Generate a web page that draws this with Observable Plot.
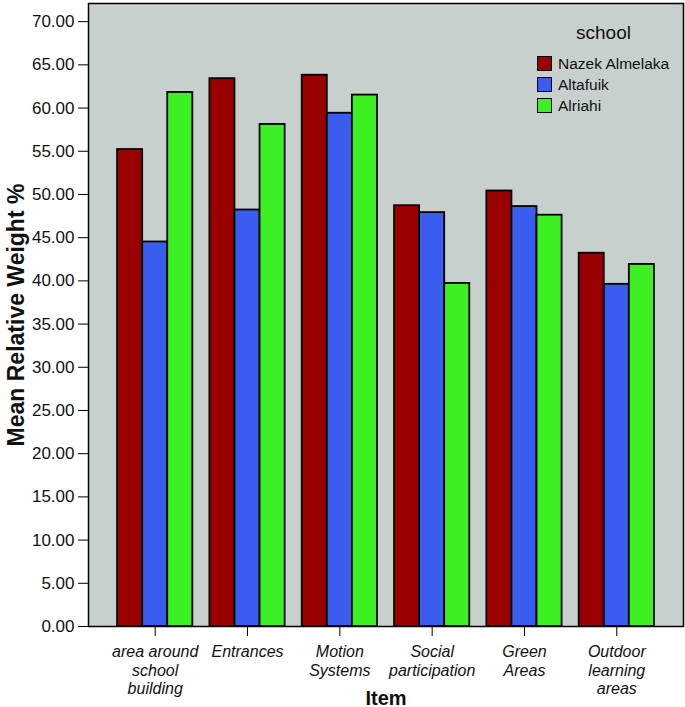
<!DOCTYPE html>
<html>
<head>
<meta charset="utf-8">
<script src="https://cdn.jsdelivr.net/npm/d3@7"></script>
<script src="https://cdn.jsdelivr.net/npm/@observablehq/plot@0.6"></script>
<style>
  html, body { margin: 0; padding: 0; background: #fff; }
  #wrap { position: relative; width: 685px; height: 707px; font-family: "Liberation Sans", Arial, sans-serif; }
  #legend { position: absolute; left: 537px; top: 22px; color: #111; }
  #legend .title { font-size: 19px; margin-left: 39px; margin-bottom: 9px; }
  #legend .row { display: flex; align-items: center; height: 21px; font-size: 15.5px; }
  #legend .sw { width: 13px; height: 13px; border: 1.5px solid #000; margin-right: 6px; }
</style>
</head>
<body>
<div id="wrap"></div>
<script>
const items = ["area around school building", "Entrances", "Motion Systems", "Social participation", "Green Areas", "Outdoor learning areas"];
const itemLabels = ["area around\nschool\nbuilding", "Entrances", "Motion\nSystems", "Social\nparticipation", "Green\nAreas", "Outdoor\nlearning\nareas"];
const schools = ["Nazek Almelaka", "Altafuik", "Alriahi"];
const nazekAlmelaka = [55.2, 63.4, 63.8, 48.7, 50.4, 43.2];
const altafuik = [44.5, 48.2, 59.4, 47.9, 48.6, 39.6];
const alriahi = [61.8, 58.1, 61.5, 39.7, 47.6, 41.9];
const yTicks = [0, 5, 10, 15, 20, 25, 30, 35, 40, 45, 50, 55, 60, 65, 70];
const schoolColors = ["#9a0000", "#3a5df0", "#3cf024"];
const panelColor = "#c7d0cd";

// layout of the clustered bars, in units of one category step
const groupWidth = 0.815;   // share of a step filled by the three bars
const outerPad = 0.315;     // gap between the frame and the outer clusters
const barWidth = groupWidth / schools.length;

const series = [nazekAlmelaka, altafuik, alriahi];
const data = [];
items.forEach((item, i) => schools.forEach((s, j) => {
  const x1 = i - groupWidth / 2 + j * barWidth;
  data.push({item, school: s, value: series[j][i], x1, x2: x1 + barWidth});
}));

const chart = Plot.plot({
  width: 685,
  height: 707,
  marginLeft: 88,
  marginRight: 2,
  marginTop: 3,
  marginBottom: 81,
  style: {fontFamily: "'Liberation Sans', Arial, sans-serif", color: "#111", background: "white"},
  x: {domain: [-(groupWidth / 2 + outerPad), items.length - 1 + groupWidth / 2 + outerPad], axis: null},
  y: {domain: [0, 72.1], axis: null},
  color: {domain: schools, range: schoolColors},
  marks: [
    Plot.frame({fill: panelColor, stroke: null}),
    Plot.rectY(data, {x1: "x1", x2: "x2", y: "value", fill: "school", stroke: "black", strokeWidth: 1.8}),
    Plot.frame({stroke: "black", strokeWidth: 1.5}),
    Plot.axisY({ticks: yTicks, tickFormat: d3.format(".2f"), tickSize: 10, tickPadding: 4, fontSize: 17, label: null, stroke: "black"}),
    Plot.axisY({ticks: [], label: "Mean Relative Weight %", labelAnchor: "center", labelArrow: "none", labelOffset: 81, fontSize: 23, fontWeight: "bold"}),
    Plot.axisX({ticks: d3.range(items.length), tickFormat: (i) => itemLabels[i], tickSize: 10, tickPadding: 7, fontSize: 16, fontStyle: "italic", lineHeight: 1.17, label: null, stroke: "black"}),
    Plot.axisX({ticks: [], label: "Item", labelAnchor: "center", labelArrow: "none", labelOffset: 78, fontSize: 20, fontWeight: "bold"})
  ]
});
const wrap = document.getElementById("wrap");
wrap.appendChild(chart);

const legend = document.createElement("div");
legend.id = "legend";
const t = document.createElement("div");
t.className = "title";
t.textContent = "school";
legend.appendChild(t);
schools.forEach((s, j) => {
  const row = document.createElement("div");
  row.className = "row";
  const sw = document.createElement("div");
  sw.className = "sw";
  sw.style.background = schoolColors[j];
  const lab = document.createElement("span");
  lab.textContent = s;
  row.appendChild(sw);
  row.appendChild(lab);
  legend.appendChild(row);
});
wrap.appendChild(legend);
</script>
</body>
</html>
